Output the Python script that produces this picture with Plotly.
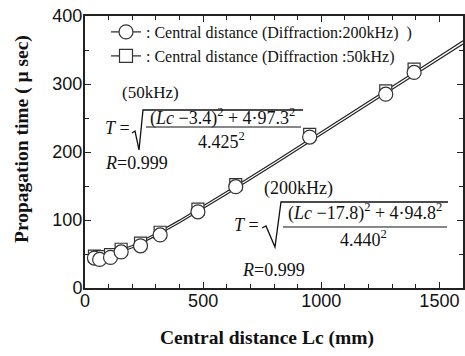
import plotly.graph_objects as go

# ---- data ----
lc = [40, 62, 108, 153, 235, 318, 478, 638, 951, 1273, 1393]
t_200khz = [44, 42, 45, 53, 62, 78, 112, 149, 222, 285, 317]
t_50khz = [47, 46, 49, 57, 66, 82, 116, 152, 226, 290, 322]

fit_lc = [40, 100, 200, 300, 400, 600, 800, 1000, 1200, 1400, 1600]
fit_200khz = [43.0, 46.5, 59.2, 76.6, 96.1, 137.9, 181.3, 225.3, 269.7, 314.2, 358.9]
fit_50khz = [44.7, 49.1, 62.5, 80.2, 99.8, 141.8, 185.3, 229.5, 274.0, 318.7, 363.5]

x_ticks = [0, 500, 1000, 1500]
y_ticks = [0, 100, 200, 300, 400]

legend_200 = ": Central distance (Diffraction:200kHz)  )"
legend_50 = ": Central distance (Diffraction :50kHz)"

W, H = 465, 356
PL, PR, PT, PB = 85, 463, 16, 288          # plot area in page pixels
L, T, R, B = PL, PT, W - PR, H - PB
PW, PH = PR - PL, PB - PT


def px(x):
    return (x - PL) / PW


def py(y):
    return (PB - y) / PH


SERIF = "Liberation Serif, Times New Roman, serif"
SANS = "Liberation Sans, Arial, sans-serif"
INK = "#222222"

fig = go.Figure()

fig.add_trace(go.Scatter(x=fit_lc, y=fit_200khz, mode="lines",
                         line=dict(color=INK, width=1.2), showlegend=False))
fig.add_trace(go.Scatter(x=fit_lc, y=fit_50khz, mode="lines",
                         line=dict(color=INK, width=1.2), showlegend=False))

fig.add_trace(go.Scatter(x=lc, y=t_50khz, mode="markers", showlegend=False,
                         marker=dict(symbol="square", size=12, color="white",
                                     line=dict(color="#333333", width=1.2))))
fig.add_trace(go.Scatter(x=lc, y=t_200khz, mode="markers", showlegend=False,
                         marker=dict(symbol="circle", size=14, color="white",
                                     line=dict(color="#333333", width=1.2))))

# legend entries
fig.add_trace(go.Scatter(x=[None], y=[None], mode="lines+markers", name=legend_200,
                         legend="legend",
                         line=dict(color=INK, width=1.2),
                         marker=dict(symbol="circle", size=14, color="white",
                                     line=dict(color="#333333", width=1.2))))
fig.add_trace(go.Scatter(x=[None], y=[None], mode="lines+markers", name=legend_50,
                         legend="legend2",
                         line=dict(color=INK, width=1.2),
                         marker=dict(symbol="square", size=13, color="white",
                                     line=dict(color="#333333", width=1.2))))

ann = []


def text(x, y, s, size=18, xanchor="center", yanchor="middle"):
    ann.append(dict(x=px(x), y=py(y), xref="paper", yref="paper", text=s,
                    showarrow=False, xanchor=xanchor, yanchor=yanchor,
                    font=dict(family=SERIF, size=size, color="#111111")))


# 50 kHz formula
text(150, 92, "(50kHz)", size=17)
text(132, 128, "<i>T</i> =", xanchor="right")
text(222, 117, "(<i>Lc</i> \u22123.4)<sup>2</sup> + 4\u00b797.3<sup>2</sup>")
text(221, 140, "4.425<sup>2</sup>")
text(103, 163, "<i>R</i>=0.999", xanchor="left")

# 200 kHz formula
text(298, 188, "(200kHz)")
text(261, 225, "<i>T</i> =", xanchor="right")
text(365, 212, "(<i>Lc</i> \u221217.8)<sup>2</sup> + 4\u00b794.8<sup>2</sup>")
text(363, 238, "4.440<sup>2</sup>")
text(240, 270, "<i>R</i>=0.999", xanchor="left")

# axis titles (placed as annotations to match the reference offsets)
ann.append(dict(x=px(267), y=py(338), xref="paper", yref="paper",
                text="<b>Central distance Lc (mm)</b>", showarrow=False,
                xanchor="center", yanchor="middle",
                font=dict(family=SERIF, size=19.5, color="#111111")))
ann.append(dict(x=px(22), y=py(139), xref="paper", yref="paper",
                text="<b>Propagation time ( \u03bc sec)</b>", showarrow=False,
                textangle=-90, xanchor="center", yanchor="middle",
                font=dict(family=SERIF, size=19.5, color="#111111")))

shapes = []


def path(points, width=1.3):
    d = "M " + " L ".join(f"{px(a):.4f},{py(b):.4f}" for a, b in points)
    shapes.append(dict(type="path", path=d, xref="paper", yref="paper",
                       line=dict(color="#111111", width=width)))


path([(132, 133), (135, 131), (139, 150), (143, 110), (303, 110)])
path([(146, 127), (301, 127)], 1.0)
path([(262, 228), (266, 226), (275, 247), (281, 202), (448, 202)])
path([(283, 227), (447, 227)], 1.0)

axis_common = dict(showline=True, linewidth=2, linecolor=INK, mirror="ticks",
                   ticks="inside", ticklen=6, tickwidth=1.2, tickcolor=INK,
                   showgrid=False, zeroline=False,
                   tickfont=dict(family=SANS, size=18, color="#111111"))

fig.update_layout(
    width=W, height=H,
    margin=dict(l=L, r=R, t=T, b=B, autoexpand=False),
    paper_bgcolor="white", plot_bgcolor="white",
    xaxis=dict(range=[0, 1600], tickvals=x_ticks, ticklabelstandoff=-5,
               minor=dict(dtick=100, ticks="inside", ticklen=4, tickcolor=INK),
               **axis_common),
    yaxis=dict(range=[0, 400], tickvals=y_ticks, ticklabelstandoff=-3,
               minor=dict(dtick=50, ticks="inside", ticklen=4, tickcolor=INK),
               **axis_common),
    legend=dict(x=px(106), y=py(15), xanchor="left", yanchor="top",
                bgcolor="rgba(0,0,0,0)", borderwidth=0,
                font=dict(family=SERIF, size=16, color="#111111")),
    legend2=dict(x=px(106), y=py(39), xanchor="left", yanchor="top",
                 bgcolor="rgba(0,0,0,0)", borderwidth=0,
                 font=dict(family=SERIF, size=16, color="#111111")),
    annotations=ann,
    shapes=shapes,
)

# remove the browser's default 8px page margin so the figure sits at (0, 0)
fig.write_html("out.html", config={"displayModeBar": False},
               post_script="document.body.style.margin='0px';")
